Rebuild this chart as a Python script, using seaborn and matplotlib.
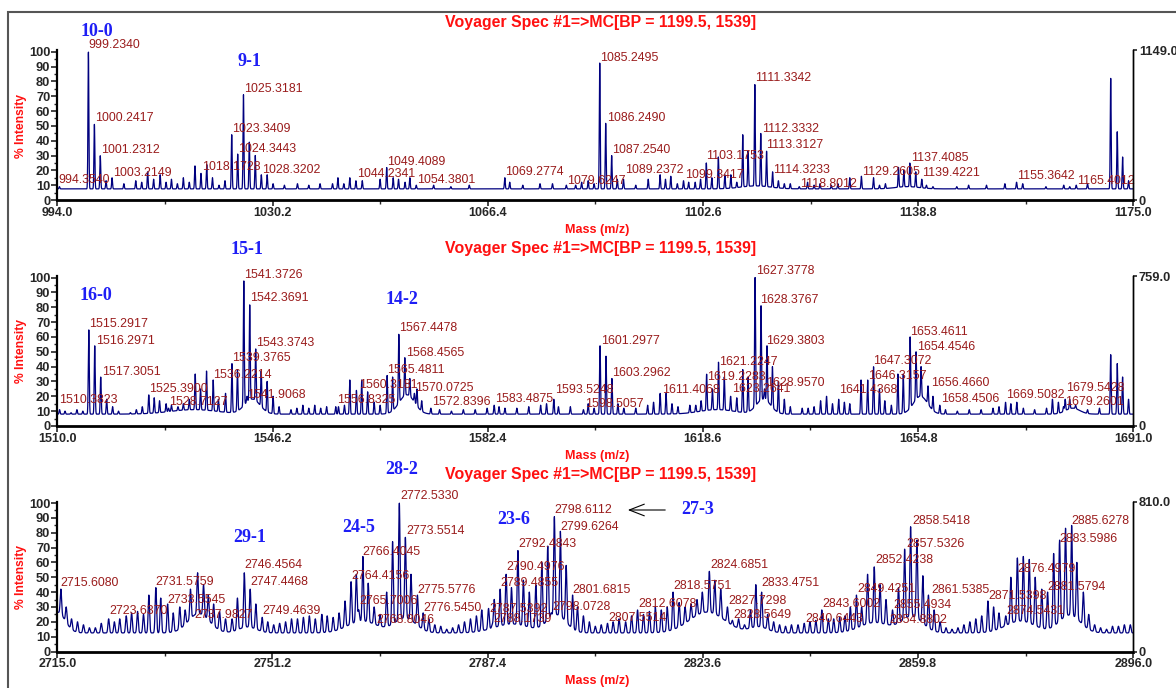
import numpy as np
import pandas as pd
import matplotlib
matplotlib.use("Agg")
import matplotlib.pyplot as plt
from matplotlib.ticker import MultipleLocator, FixedLocator
from matplotlib.patches import Rectangle, FancyArrowPatch
import seaborn as sns

sns.set_style("white")
plt.rcParams["font.family"] = ["Liberation Sans", "DejaVu Sans"]

W, H = 1176, 688
TITLE = "Voyager Spec #1=>MC[BP = 1199.5, 1539]"

# ---------------- data: panel 1 (m/z 994.0 - 1175.0) ----------------
p1_range = (994.0, 1175.0)
p1_full_scale = "1149.0"
p1_label_mz = ["994.3540", "999.2340", "1000.2417", "1001.2312", "1003.2149", "1018.1728",
               "1023.3409", "1024.3443", "1025.3181", "1028.3202", "1044.2341", "1049.4089",
               "1054.3801", "1069.2774", "1079.6247", "1085.2495", "1086.2490", "1087.2540",
               "1089.2372", "1099.3417", "1103.1753", "1111.3342", "1112.3332", "1113.3127",
               "1114.3233", "1118.8012", "1129.2605", "1137.4085", "1139.4221", "1155.3642",
               "1165.4012"]
p1_label_int = [9, 100, 51, 30, 15, 18, 44, 31, 71, 17, 13, 22, 10, 15, 10, 93, 52, 30,
                14, 13, 25, 78, 45, 33, 19, 9, 16, 25, 14, 12, 10]
p1_minor_mz = [1002.2, 1005.2, 1007.2, 1008.2, 1009.2, 1010.2, 1011.3, 1012.3, 1013.2, 1014.2,
               1015.2, 1016.2, 1017.16, 1019.13, 1020.1, 1021.2, 1022.2, 1026.3, 1027.3, 1029.3,
               1030.3, 1032.2, 1034.4, 1036.3, 1038.2, 1040.3, 1041.2, 1042.2, 1043.2, 1045.3,
               1048.3, 1050.5, 1051.4, 1052.5, 1053.3, 1057.3, 1060.2, 1063.3, 1070.1, 1072.3,
               1075.2, 1077.3, 1081.2, 1082.2, 1083.3, 1084.3, 1088.2, 1091.3, 1093.4, 1095.4,
               1096.3, 1097.2, 1098.3, 1100.2, 1101.3, 1102.2, 1104.1, 1105.2, 1106.3, 1107.3,
               1108.3, 1109.3, 1110.2, 1115.3, 1116.3, 1117.3, 1120.2, 1121.3, 1122.3, 1124.2,
               1125.3, 1127.3, 1131.3, 1132.3, 1133.3, 1135.5, 1136.4, 1138.4, 1140.2, 1141.3,
               1145.3, 1147.3, 1150.3, 1153.4, 1156.4, 1160.3, 1163.3, 1164.3, 1167.3, 1171.2,
               1172.3, 1173.2, 1174.2]
p1_minor_int = [13, 11, 13, 12, 19, 14, 17, 12, 14, 11,
                15, 12, 23, 24, 15, 10, 13, 39, 30, 17,
                11, 10, 11, 10, 11, 11, 15, 11, 15, 13,
                14, 15, 14, 12, 15, 10, 9, 10, 12, 10,
                11, 11, 10, 12, 13, 11, 14, 10, 14, 17,
                14, 16, 11, 12, 12, 14, 15, 29, 17, 17,
                12, 44, 33, 13, 11, 11, 12, 10, 11, 10,
                11, 15, 15, 10, 11, 22, 20, 19, 10, 9,
                9, 10, 10, 11, 11, 9, 10, 9, 11, 82,
                46, 29, 13]
p1_baseline = 7.5
p1_humps = [(1111.5, 2.0, 2.5), (1137.0, 1.5, 2.0)]

# ---------------- data: panel 2 (m/z 1510.0 - 1691.0) ----------------
p2_range = (1510.0, 1691.0)
p2_full_scale = "759.0"
p2_label_mz = ["1510.3823", "1515.2917", "1516.2971", "1517.3051", "1525.3900", "1528.7127",
               "1536.2214", "1539.3765", "1541.3726", "1542.3691", "1543.3743", "1541.9068",
               "1556.8325", "1560.3181", "1565.4811", "1567.4478", "1568.4565", "1570.0725",
               "1572.8396", "1583.4875", "1593.5248", "1598.5057", "1601.2977", "1603.2962",
               "1611.4068", "1619.2283", "1621.2247", "1623.2641", "1627.3778", "1628.3767",
               "1629.3803", "1628.9570", "1641.4368", "1646.3157", "1647.3072", "1653.4611",
               "1654.4546", "1656.4660", "1658.4506", "1669.5082", "1679.5428", "1679.2601"]
p2_label_int = [11, 65, 54, 33, 21, 12, 31, 42, 98, 82, 52, 20, 13, 24, 34, 62, 46, 22,
                12, 14, 18, 11, 54, 32, 22, 35, 43, 20, 100, 81, 54, 25, 18, 31, 40, 60,
                50, 27, 14, 16, 18, 13]
p2_minor_mz = [1511.3, 1512.3, 1513.3, 1514.3, 1518.3, 1519.3, 1520.3, 1522.3, 1523.3, 1524.3,
               1526.3, 1527.2, 1528.3, 1529.2, 1530.3, 1531.2, 1532.2, 1533.2, 1534.1, 1535.1,
               1537.1, 1538.3, 1540.3, 1544.3, 1545.3, 1546.3, 1547.3, 1549.3, 1550.3, 1551.3,
               1552.3, 1553.3, 1554.3, 1555.3, 1557.3, 1558.3, 1559.2, 1561.2, 1562.2, 1563.3,
               1564.3, 1566.4, 1569.3, 1570.5, 1571.3, 1574.3, 1576.3, 1578.3, 1580.3, 1582.3,
               1584.3, 1585.3, 1587.3, 1589.3, 1591.3, 1592.3, 1594.3, 1596.3, 1599.3, 1600.3,
               1602.3, 1604.3, 1605.3, 1607.3, 1609.3, 1610.3, 1612.4, 1613.4, 1614.4, 1616.4,
               1617.4, 1618.3, 1620.2, 1622.2, 1624.3, 1625.3, 1626.2, 1630.3, 1631.3, 1632.3,
               1633.3, 1635.3, 1636.3, 1637.3, 1638.4, 1639.4, 1640.4, 1642.4, 1643.3, 1645.2,
               1648.3, 1649.2, 1650.3, 1651.4, 1652.3, 1655.3, 1657.3, 1659.4, 1661.4, 1663.4,
               1665.4, 1667.4, 1668.4, 1670.4, 1671.4, 1672.5, 1674.4, 1676.4, 1677.4, 1678.4,
               1680.3, 1681.3, 1683.3, 1685.3, 1687.2, 1688.3, 1689.2, 1690.2]
p2_minor_int = [10, 9, 11, 10, 18, 13, 10, 9, 11, 13,
                19, 17, 15, 14, 13, 15, 18, 35, 25, 37,
                18, 22, 38, 37, 30, 20, 13, 11, 12, 14,
                12, 14, 12, 13, 13, 14, 31, 31, 23, 16,
                14, 33, 32, 25, 17, 11, 10, 11, 11, 12,
                13, 12, 12, 13, 14, 15, 13, 13, 15, 12,
                47, 15, 12, 12, 14, 16, 22, 15, 13, 14,
                14, 17, 25, 33, 19, 38, 33, 40, 30, 18,
                13, 12, 12, 13, 17, 20, 15, 16, 15, 31,
                25, 17, 14, 35, 35, 40, 20, 11, 10, 11,
                11, 12, 13, 15, 16, 12, 11, 12, 18, 16,
                18, 14, 11, 12, 48, 42, 33, 18]
p2_baseline = 8.0
p2_humps = [(1542.8, 10, 1.3), (1568.8, 13, 1.3), (1628.8, 10, 1.2), (1655.2, 12, 1.2),
            (1533.0, 3, 4.0), (1680.8, 4, 1.2), (1621.0, 3, 3.0)]

# ---------------- data: panel 3 (m/z 2715.0 - 2896.0) ----------------
p3_range = (2715.0, 2896.0)
p3_full_scale = "810.0"
p3_label_mz = ["2715.6080", "2723.6370", "2731.5759", "2733.5545", "2737.9827", "2746.4564",
               "2747.4468", "2749.4639", "2764.4156", "2765.7006", "2766.4045", "2768.8046",
               "2772.5330", "2773.5514", "2775.5776", "2776.5450", "2787.5392", "2788.1739",
               "2789.4855", "2790.4976", "2792.4843", "2798.0728", "2798.6112", "2799.6264",
               "2801.6815", "2807.5514", "2812.6078", "2818.5751", "2824.6851", "2827.7298",
               "2828.5649", "2833.4751", "2840.6443", "2843.6002", "2849.4251", "2852.4238",
               "2854.8802", "2855.4934", "2857.5326", "2858.5418", "2861.5385", "2871.5398",
               "2874.5431", "2876.4979", "2881.5794", "2883.5986", "2885.6278"]
p3_label_int = [42, 22, 43, 32, 20, 53, 42, 23, 47, 28, 64, 17, 100, 77, 38, 26, 29, 18,
                42, 52, 68, 26, 91, 81, 38, 19, 28, 40, 54, 30, 21, 40, 19, 28, 38, 57,
                18, 28, 69, 84, 38, 34, 24, 63, 40, 75, 85]
p3_minor_mz = [2716.5, 2717.4, 2718.4, 2719.4, 2720.4, 2721.4, 2722.4, 2724.6, 2725.5, 2726.6,
               2727.5, 2728.5, 2729.5, 2730.4, 2732.4, 2734.5, 2735.6, 2736.5, 2737.4, 2738.6,
               2739.6, 2740.4, 2741.3, 2742.3, 2743.3, 2744.4, 2745.3, 2748.4, 2750.4, 2751.4,
               2752.4, 2753.4, 2754.4, 2755.4, 2756.4, 2757.4, 2758.4, 2759.5, 2760.4, 2761.4,
               2762.4, 2763.4, 2765.3, 2767.3, 2768.3, 2769.3, 2770.4, 2771.4, 2774.5, 2777.5,
               2778.5, 2779.5, 2780.5, 2781.5, 2782.5, 2783.5, 2784.5, 2785.5, 2786.4, 2788.5,
               2791.4, 2793.4, 2794.4, 2795.5, 2796.5, 2797.5, 2800.6, 2802.5, 2803.5, 2804.5,
               2805.5, 2806.5, 2808.5, 2809.5, 2810.6, 2811.6, 2813.6, 2814.6, 2815.6, 2816.6,
               2817.6, 2819.6, 2820.6, 2821.6, 2822.6, 2823.5, 2825.6, 2826.6, 2829.6, 2830.6,
               2831.6, 2832.5, 2834.5, 2835.5, 2836.5, 2837.5, 2838.5, 2839.6, 2841.6, 2842.6,
               2844.7, 2845.6, 2846.6, 2847.5, 2848.4, 2850.3, 2851.3, 2853.4, 2854.4, 2856.5,
               2859.6, 2860.6, 2862.5, 2863.5, 2864.5, 2865.5, 2866.5, 2867.5, 2868.5, 2869.5,
               2870.5, 2872.5, 2873.4, 2875.4, 2877.5, 2878.5, 2879.5, 2880.6, 2882.6, 2884.6,
               2886.5, 2887.6, 2888.5, 2889.5, 2890.5, 2891.5, 2892.5, 2893.5, 2894.5, 2895.5]
p3_minor_int = [30, 22, 20, 18, 16, 16, 19, 20, 22, 24,
                26, 27, 25, 38, 36, 26, 30, 28, 42, 53,
                45, 38, 32, 27, 22, 22, 36, 32, 20, 18,
                19, 20, 22, 22, 23, 24, 22, 25, 24, 23,
                26, 34, 52, 46, 30, 25, 40, 74, 52, 22,
                18, 17, 15, 16, 18, 20, 22, 24, 28, 35,
                43, 48, 40, 45, 60, 71, 58, 30, 24, 20,
                17, 18, 20, 22, 20, 24, 25, 27, 30, 28,
                30, 33, 30, 32, 35, 40, 48, 42, 22, 18,
                28, 45, 25, 20, 18, 17, 18, 18, 20, 21,
                22, 22, 23, 24, 30, 30, 52, 45, 35, 43,
                75, 51, 28, 20, 16, 15, 16, 18, 20, 22,
                24, 30, 26, 50, 64, 62, 50, 42, 66, 83,
                60, 40, 25, 18, 16, 15, 17, 17, 18, 18]
p3_baseline = 12.5
p3_humps = [(2715.0, 14, 1.3), (2738.8, 13, 1.8), (2747.0, 4, 1.5), (2766.3, 8, 2.5),
            (2773.5, 10, 1.8), (2791.5, 6, 3.0), (2799.0, 12, 1.6), (2824.3, 14, 3.0),
            (2833.0, 4, 1.5), (2852.5, 7, 2.5), (2858.8, 11, 1.8), (2877.0, 8, 2.5),
            (2885.3, 12, 1.8)]

# ---------------- layout ----------------
# axes placement in pixels: (left, right, y of 0 %, y of 100 %)
panel_px = [(57.3, 1133.3, 200.0, 51.7), (57.3, 1133.3, 426.0, 277.5), (57.3, 1133.3, 651.5, 503.0)]
title_y = [22, 248, 475]
mass_y = [230, 456, 681]
ylab_y = [126, 351, 577]
peak_sigma = [0.075, 0.08, 0.12]

# label anchors (m/z, % height) for each peak label, left/baseline aligned
p1_label_xy = [(994.2, 11.7), (999.2, 102.7), (1000.3, 53), (1001.3, 31.5), (1003.3, 16.4),
               (1018.35, 20), (1023.33, 46), (1024.45, 32.7), (1025.4, 72.5), (1028.5, 18.5),
               (1044.5, 15.7), (1049.5, 23.6), (1054.45, 11.7), (1069.3, 17), (1079.8, 11),
               (1085.3, 94), (1086.4, 53.6), (1087.35, 31.5), (1089.5, 18), (1099.6, 15),
               (1103.2, 27.5), (1111.36, 80), (1112.5, 46), (1113.3, 35), (1114.4, 18.5),
               (1118.9, 9), (1129.3, 17), (1137.6, 26.6), (1139.4, 16.4), (1155.4, 14),
               (1165.6, 11)]
p2_label_xy = [(1510.3, 15.3), (1515.4, 66.7), (1516.46, 55.4), (1517.5, 34.5), (1525.5, 23),
               (1528.8, 14), (1536.2, 32), (1539.4, 43.5), (1541.45, 99.8), (1542.4, 84),
               (1543.4, 53.6), (1542.0, 18.7), (1557.0, 15.3), (1560.7, 25.5), (1565.5, 36),
               (1567.5, 63.7), (1568.6, 47.3), (1570.2, 23.6), (1573.0, 14), (1583.6, 16.4),
               (1593.7, 22.5), (1598.8, 13), (1601.4, 55.4), (1603.4, 33.8), (1611.7, 22),
               (1619.3, 31), (1621.35, 41), (1623.45, 23), (1627.5, 102.5), (1628.2, 83),
               (1629.2, 55), (1629.2, 26.6), (1641.5, 22), (1646.4, 31.8), (1647.3, 41.7),
               (1653.4, 61.5), (1654.6, 51.4), (1657.0, 26.6), (1658.6, 16.4), (1669.6, 18.7),
               (1679.7, 23.9), (1679.5, 14)]
p3_label_xy = [(2715.6, 44), (2723.7, 25), (2731.55, 44.6), (2733.6, 32.6), (2738.05, 22.5),
               (2746.4, 55.9), (2747.5, 44.6), (2749.55, 25.5), (2764.4, 49), (2765.8, 32.2),
               (2766.4, 65.3), (2768.6, 19), (2772.7, 102.5), (2773.65, 79), (2775.55, 39.7),
               (2776.6, 27), (2787.6, 26.4), (2788.3, 20), (2789.6, 44), (2790.6, 55),
               (2792.55, 70.3), (2798.3, 27.7), (2798.6, 93), (2799.7, 82), (2801.7, 39.4),
               (2807.7, 20.7), (2812.7, 30), (2818.6, 42.3), (2824.8, 56.3), (2827.9, 32.2),
               (2828.7, 22.5), (2833.5, 44), (2840.8, 20), (2843.7, 30), (2849.6, 40),
               (2852.6, 59.5), (2854.9, 19.5), (2855.6, 29.5), (2857.9, 70.6), (2858.9, 85.7),
               (2862.0, 39.6), (2871.6, 35.6), (2874.6, 25.5), (2876.5, 53.3), (2881.5, 41.4),
               (2883.6, 73.6), (2885.6, 86)]

# composition annotations in pixels (centre x, centre y)
series_tags = [("10-0", 96.7, 31), ("9-1", 249.5, 61),
               ("15-1", 246.7, 250), ("16-0", 96.3, 295), ("14-2", 401.7, 299),
               ("29-1", 249.5, 537), ("24-5", 359, 527), ("28-2", 402, 470),
               ("23-6", 513.5, 520), ("27-3", 698, 510)]

LINE_C = "#00007F"
LABEL_C = "#9A1C1C"
TAG_C = "#1E1EF5"
RED = "#FF1010"


def background(x, base, humps):
    y = np.full_like(x, base, dtype=float)
    for c, h, w in humps:
        y += h * np.exp(-0.5 * ((x - c) / w) ** 2)
    return y


def spectrum(xr, base, humps, mz, inten, sigma):
    x = np.arange(xr[0], xr[1] + 0.01, 0.02)
    y = background(x, base, humps)
    bg_at = background(np.asarray(mz, float), base, humps)
    for m, h, b in zip(mz, inten, bg_at):
        y += max(h - b, 0.0) * np.exp(-0.5 * ((x - m) / sigma) ** 2)
    return pd.DataFrame({"mz": x, "intensity": y})


panels = [
    (p1_range, p1_full_scale, p1_label_mz, p1_label_int, p1_minor_mz, p1_minor_int,
     p1_baseline, p1_humps, p1_label_xy),
    (p2_range, p2_full_scale, p2_label_mz, p2_label_int, p2_minor_mz, p2_minor_int,
     p2_baseline, p2_humps, p2_label_xy),
    (p3_range, p3_full_scale, p3_label_mz, p3_label_int, p3_minor_mz, p3_minor_int,
     p3_baseline, p3_humps, p3_label_xy),
]

fig = plt.figure(figsize=(W / 100, H / 100), dpi=100)
YTOP = 101.0

for i, (xr, fs, lab_mz, lab_int, min_mz, min_int, base, humps, lab_xy) in enumerate(panels):
    left, right, y0, y100 = panel_px[i]
    px_per_pct = (y0 - y100) / 100.0
    top_px = y0 - YTOP * px_per_pct
    ax = fig.add_axes([left / W, 1 - y0 / H, (right - left) / W, (y0 - top_px) / H])

    mz_all = [float(v) for v in lab_mz] + list(min_mz)
    int_all = list(lab_int) + list(min_int)
    df = spectrum(xr, base, humps, mz_all, int_all, peak_sigma[i])
    sns.lineplot(data=df, x="mz", y="intensity", ax=ax, color=LINE_C, linewidth=0.9,
                 estimator=None, sort=False)

    ax.set_xlim(*xr)
    ax.set_ylim(0, YTOP)
    ax.set_xlabel("")
    ax.set_ylabel("")
    step = (xr[1] - xr[0]) / 5
    ax.xaxis.set_major_locator(FixedLocator([xr[0] + step * k for k in range(6)]))
    ax.xaxis.set_minor_locator(FixedLocator([xr[0] + step * (k + 0.5) for k in range(5)]))
    ax.set_xticklabels([f"{xr[0] + step * k:.1f}" for k in range(6)])
    ax.set_yticks(range(0, 101, 10))
    ax.yaxis.set_minor_locator(MultipleLocator(5))
    ax.tick_params(axis="x", which="major", direction="out", length=4, width=1.2, pad=1,
                   labelsize=9, bottom=True)
    ax.tick_params(axis="x", which="minor", direction="out", length=3, width=1.0, bottom=True)
    ax.tick_params(axis="y", which="major", direction="out", length=4, width=1.2, pad=1,
                   labelsize=9.3, left=True)
    ax.tick_params(axis="y", which="minor", direction="out", length=2.5, width=1.0, left=True)
    for t in ax.get_xticklabels() + ax.get_yticklabels():
        t.set_fontweight("bold")
    ax.spines["top"].set_visible(False)
    ax.spines["bottom"].set_linewidth(2.0)
    ax.spines["left"].set_linewidth(1.6)
    ax.spines["right"].set_linewidth(1.0)
    for s in ("bottom", "left", "right"):
        ax.spines[s].set_color("black")
    ax.patch.set_alpha(0)

    ax2 = ax.twinx()
    ax2.set_ylim(0, YTOP)
    ax2.set_yticks([0, YTOP])
    ax2.set_yticklabels(["0", fs])
    ax2.tick_params(axis="y", direction="out", length=3, width=1.2, pad=1, labelsize=9.3)
    for t in ax2.get_yticklabels():
        t.set_fontweight("bold")
    for s in ("top", "left", "bottom"):
        ax2.spines[s].set_visible(False)
    ax2.spines["right"].set_linewidth(1.0)
    ax2.spines["right"].set_color("black")

    for txt, (lx, ly) in zip(lab_mz, lab_xy):
        ax.text(lx, ly, txt, ha="left", va="baseline", fontsize=8.9, color=LABEL_C,
                clip_on=False)

    fig.text(601 / W, 1 - title_y[i] / H, TITLE, ha="center", va="center",
             fontsize=11.4, fontweight="bold", color=RED)
    fig.text(597 / W, 1 - mass_y[i] / H, "Mass (m/z)", ha="center", va="center",
             fontsize=9, fontweight="bold", color=RED)
    fig.text(21 / W, 1 - ylab_y[i] / H, "% Intensity", ha="center", va="center",
             rotation=90, fontsize=8.7, fontweight="bold", color=RED)

for tag, tx, ty in series_tags:
    fig.text(tx / W, 1 - ty / H, tag, ha="center", va="center", fontsize=13,
             fontweight="bold", color=TAG_C, family=["Liberation Serif", "DejaVu Serif"])

fig.add_artist(FancyArrowPatch(
    (668 / W, 1 - 510 / H), (625 / W, 1 - 510 / H), transform=fig.transFigure,
    arrowstyle="->,head_length=0.9,head_width=0.35", lw=0.8, color="black",
    mutation_scale=12))

fig.add_artist(Rectangle((8 / W, -0.05), 1.1, 1 - 12 / H + 0.05, transform=fig.transFigure,
                         fill=False, edgecolor="#555555", linewidth=1.5))

fig.savefig("out.png", dpi=100)
